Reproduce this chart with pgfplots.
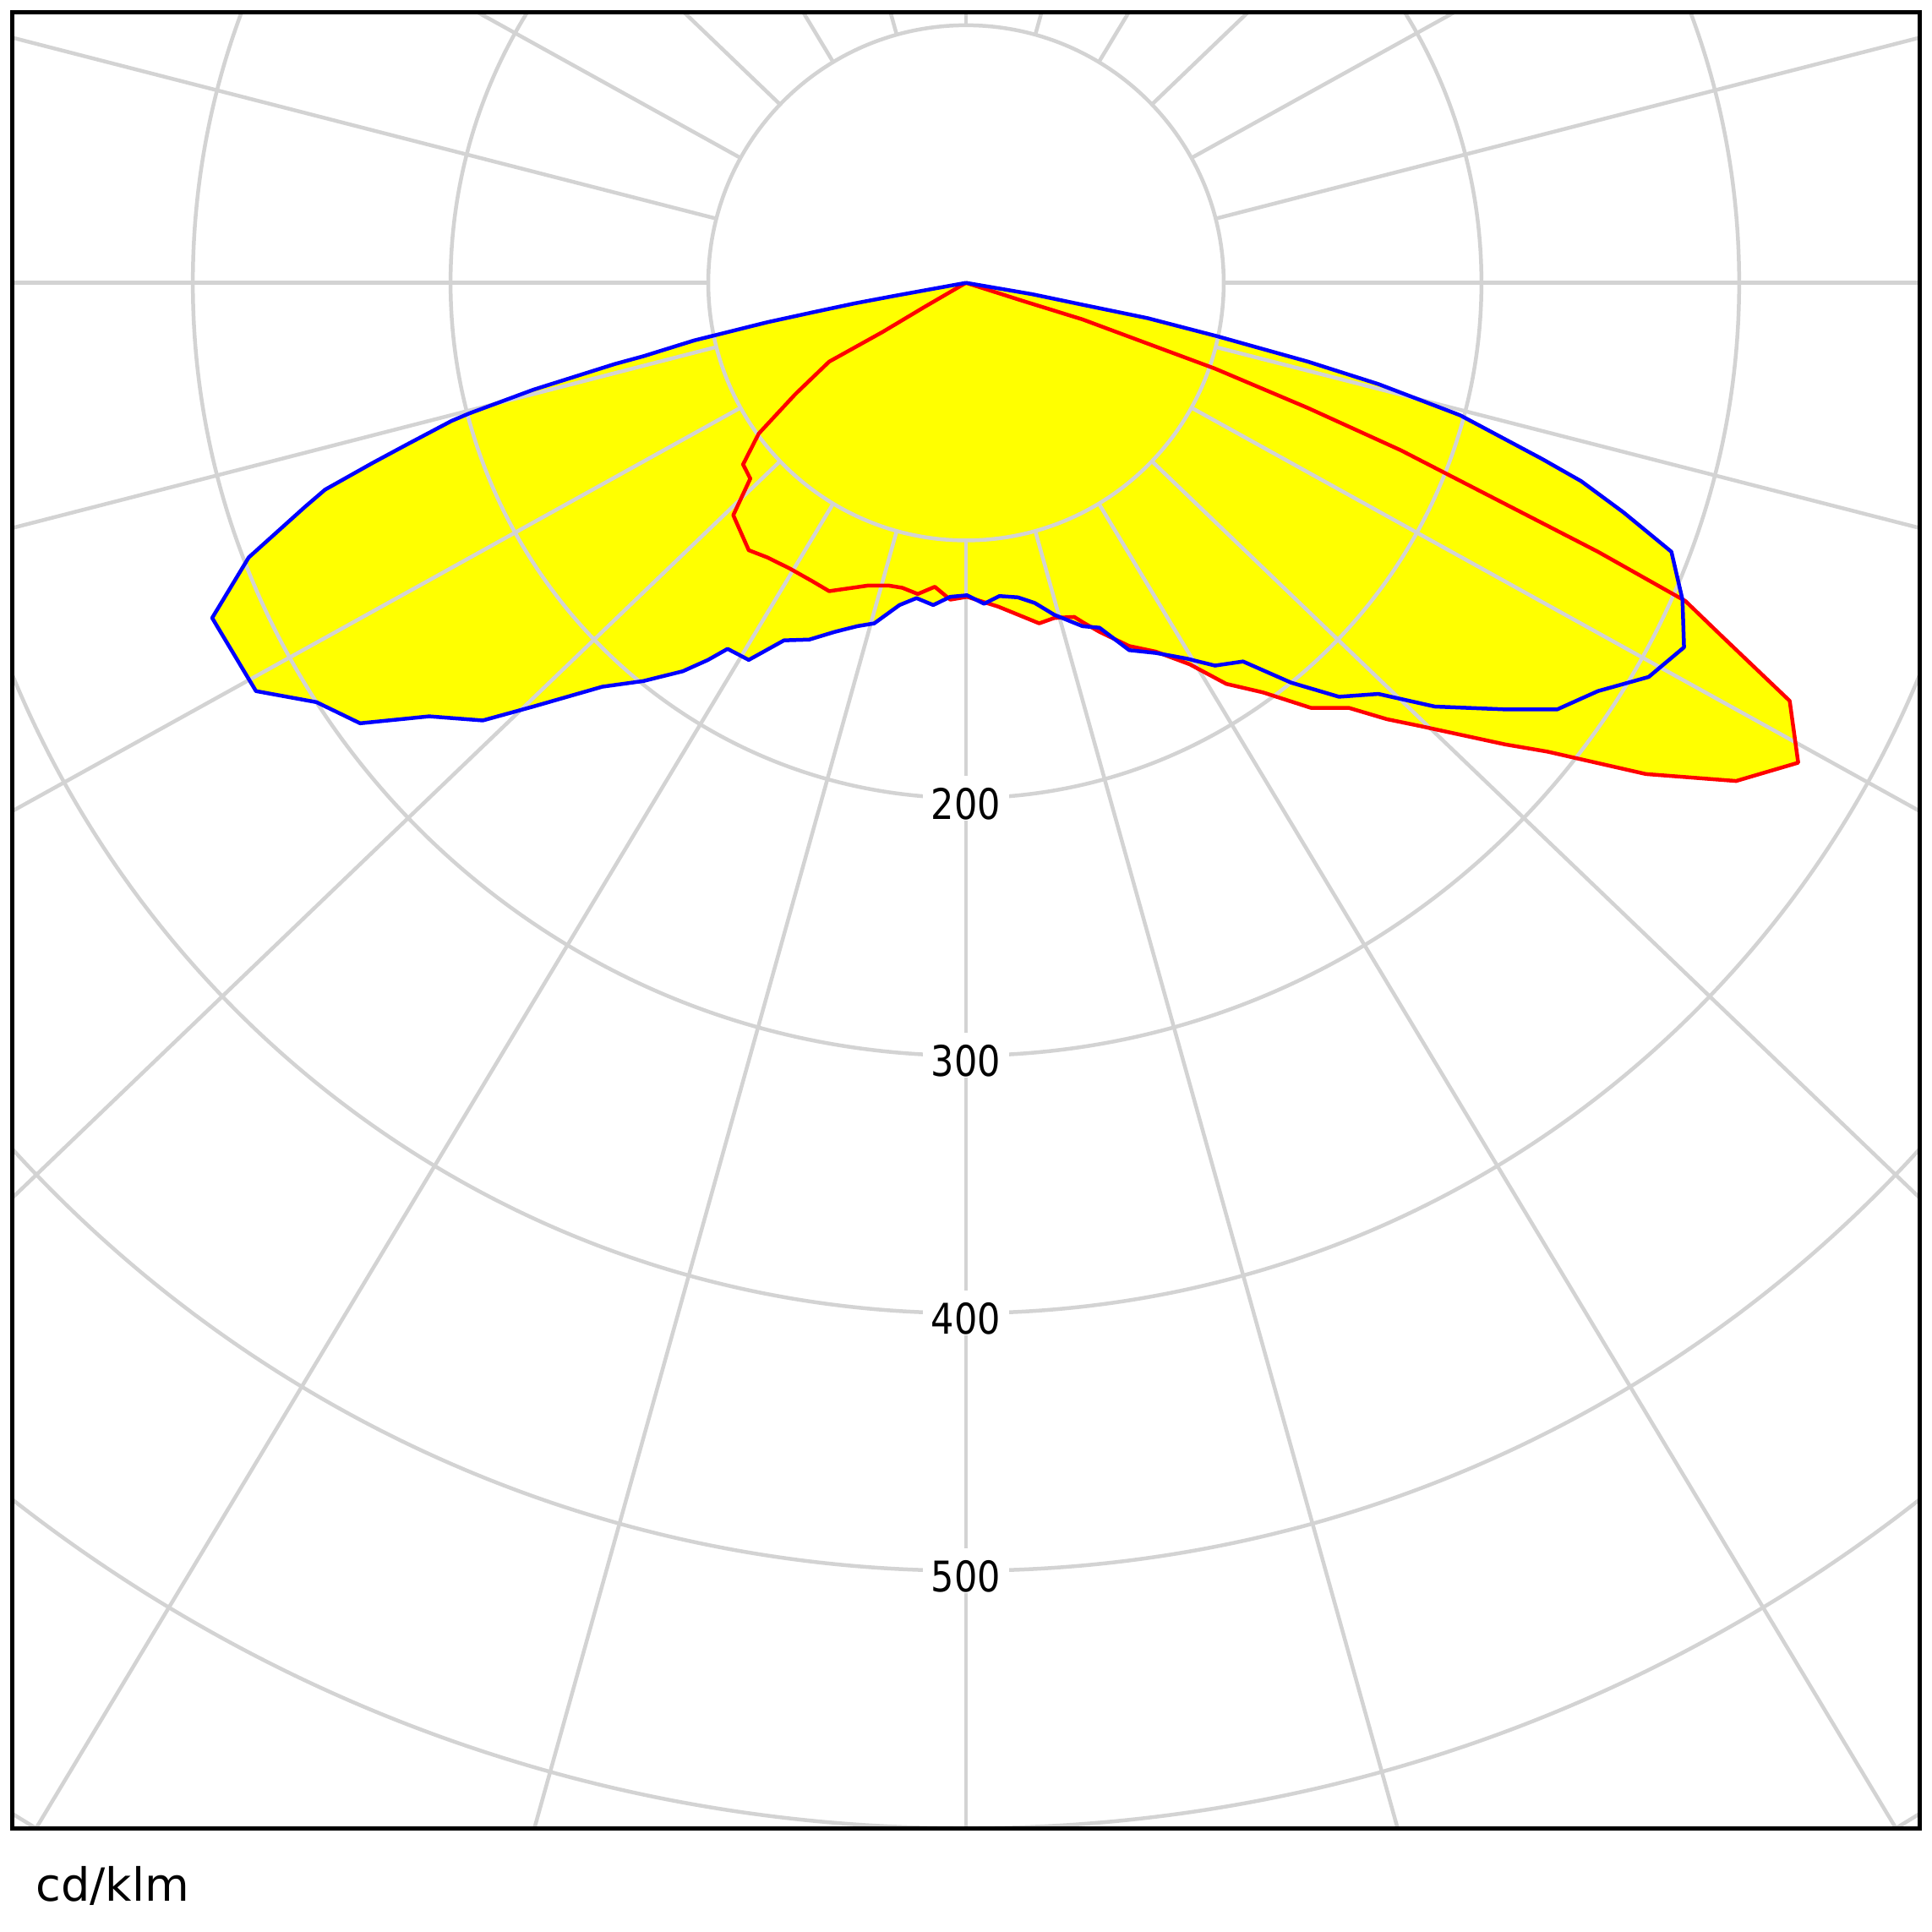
\documentclass[border=0pt]{standalone}
\usepackage{pgfplots}
\pgfplotsset{compat=1.18}
\usepackage{pgfplotstable}
\usepackage{fontspec}
\setmainfont{DejaVu Sans}
\newfontfamily\labfont[FakeStretch=0.86]{DejaVu Sans}
\definecolor{gridgray}{RGB}{211,211,211}
\definecolor{fillyellow}{RGB}{255,255,0}
\definecolor{curvered}{RGB}{255,0,0}
\definecolor{curveblue}{RGB}{0,0,255}

% polar curves, already in x/y (cd/klm), nadir pointing down
\pgfplotstableread{
x y
0 0
-26.9 -4.9
-43.3 -8.0
-59.7 -11.5
-77.1 -15.3
-105.6 -22.4
-125.2 -28.5
-136.2 -31.5
-167.9 -41.5
-193.0 -50.8
-199.6 -53.6
-217.0 -62.8
-230.2 -69.9
-248.7 -80.3
-256.4 -86.9
-278.3 -106.6
-292.5 -130.1
-275.5 -158.5
-252.0 -162.8
-235.1 -171.0
-208.3 -168.3
-187.5 -169.9
-167.9 -164.5
-141.1 -156.8
-125.2 -154.6
-109.9 -150.8
-100.1 -146.4
-92.5 -142.1
-84.3 -146.4
-70.6 -138.8
-60.8 -138.5
-50.9 -135.5
-42.2 -133.3
-35.6 -132.2
-25.8 -125.1
-19.2 -122.4
-12.7 -125.1
-6.1 -121.9
0.4 -121.3
7.0 -124.6
13.0 -121.6
20.1 -122.1
26.7 -124.3
34.3 -128.9
45.2 -133.3
51.8 -133.9
63.3 -142.6
73.7 -143.7
85.7 -145.9
96.6 -148.6
107.5 -147.0
126.1 -155.2
144.7 -160.7
160.0 -159.6
181.9 -164.5
209.2 -165.6
229.4 -165.6
245.2 -158.5
264.9 -153.0
278.6 -141.5
278.0 -123.0
273.7 -104.4
255.1 -89.1
238.7 -77.0
223.4 -68.3
191.7 -51.4
160.0 -39.3
132.7 -30.6
97.7 -20.8
70.4 -13.7
45.2 -8.5
25.6 -4.4
0 0
}\bluecurve

\pgfplotstableread{
x y
0 0
-16.0 -9.3
-32.4 -19.1
-53.1 -30.6
-66.2 -43.2
-80.4 -58.5
-86.5 -70.5
-83.7 -76.0
-90.3 -90.2
-84.3 -103.8
-77.1 -106.6
-68.4 -110.9
-59.7 -115.8
-53.1 -119.7
-37.8 -117.5
-30.2 -117.5
-24.7 -118.4
-18.7 -120.8
-12.1 -118.0
-6.1 -123.0
0.4 -121.9
12.5 -125.7
28.4 -132.2
34.3 -130.1
42.0 -129.7
45.2 -131.7
51.8 -135.5
63.3 -141.0
73.7 -143.2
86.8 -148.1
101.0 -155.7
115.2 -159.0
133.8 -165.0
148.5 -165.0
163.3 -169.4
176.4 -172.1
209.2 -179.2
225.6 -182.0
263.8 -190.7
298.8 -193.4
322.9 -186.3
319.6 -162.3
293.3 -137.2
279.1 -123.5
245.2 -104.4
168.7 -65.0
132.7 -48.6
96.6 -33.3
45.2 -14.2
22.3 -7.1
0 0
}\redcurve

\begin{document}
\begin{tikzpicture}
\useasboundingbox (-0.147,-1.22) rectangle (22.717,21.637);
\begin{axis}[
  scale only axis,
  width=22.57cm, height=21.49cm,
  xmin=-370, xmax=370, ymin=-600, ymax=105,
  xtick=\empty, ytick=\empty,
  axis on top,
  axis line style={black, line width=0.045cm},
]
\addplot[draw=none, fill=fillyellow] table {\bluecurve};
\addplot[draw=none, fill=fillyellow] table {\redcurve};

% grid: rings every 100 cd/klm, spokes every 15 deg outside the first ring
\pgfplotsinvokeforeach{100,200,...,700}{
  \draw[gridgray, line width=0.045cm] (axis cs:0,0) circle[radius=#1];
}
\pgfplotsinvokeforeach{0,15,...,345}{
  \draw[gridgray, line width=0.045cm]
    (axis cs:{100*cos(#1)/sqrt(cos(#1)^2+0.9216*sin(#1)^2)},{96*sin(#1)/sqrt(cos(#1)^2+0.9216*sin(#1)^2)})
    -- (axis cs:{900*cos(#1)},{864*sin(#1)});
}
\pgfplotsinvokeforeach{200,300,400,500}{
  \node[fill=white, inner xsep=0.1cm, inner ysep=0pt,
        text height=0.515cm, text depth=0.015cm,
        font={\labfont\fontsize{14.23pt}{17pt}\selectfont}]
    at (axis cs:0,-#1) {#1};
}

\addplot[curvered, line width=0.045cm, line join=round] table {\redcurve};
\addplot[curveblue, line width=0.045cm, line join=round] table {\bluecurve};
\end{axis}
\node[anchor=base west, inner sep=0pt, font=\fontsize{15.4pt}{18pt}\selectfont]
  at (0.27,-0.86) {cd/klm};
\end{tikzpicture}
\end{document}
